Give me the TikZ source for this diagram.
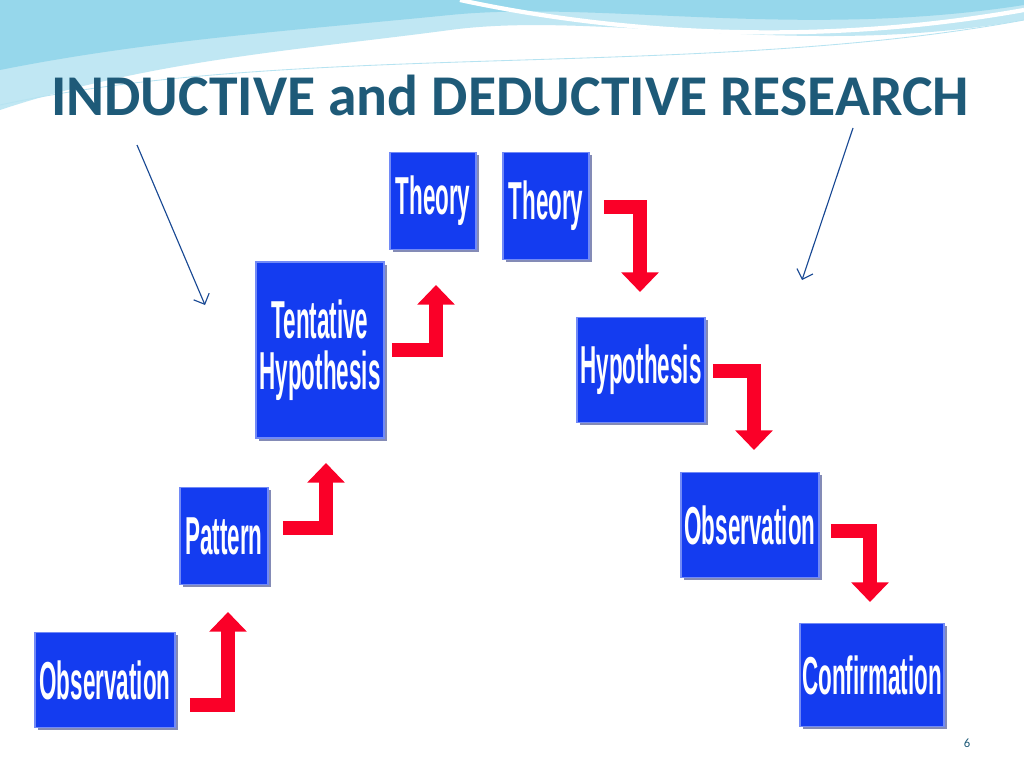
\documentclass[tikz,border=0pt]{standalone}
\usepackage{fontspec}
\setmainfont{Carlito}
\newfontfamily\boxfont{Liberation Sans}
\usepackage{graphicx}
\usetikzlibrary{positioning,arrows.meta,calc,shadows}
\definecolor{boxblue}{RGB}{20,60,240}
\definecolor{boxdark}{RGB}{10,25,110}
\definecolor{arrred}{RGB}{250,0,40}
\definecolor{titleteal}{RGB}{30,90,120}
\definecolor{skyblue}{RGB}{150,215,235}
\newcommand{\blbl}[1]{\scalebox{0.42}[1]{#1}}
\tikzset{
  stepbox/.style={fill=boxblue, draw=boxblue!60!white, line width=1pt, inner sep=0pt,
    text=white, font=\boxfont\bfseries\fontsize{38}{40}\selectfont, align=center,
    drop shadow={fill=boxdark, shadow xshift=2pt, shadow yshift=-2pt}},
  redarrow/.style={draw=arrred, line width=10pt, -{Triangle[width=26pt,length=14pt]}},
  pointer/.style={draw=titleteal!80!blue, line width=0.8pt, -{Straight Barb[length=6pt]}},
}
\begin{document}
\begin{tikzpicture}[x=0.025cm,y=-0.025cm]
\useasboundingbox[fill=white] (0,0) rectangle (1024,768);
% top waves
\fill[skyblue!60] (0,0) -- (1024,0) -- (1024,20) .. controls (800,60) and (600,10) .. (450,30) .. controls (300,50) and (150,60) .. (0,110) -- cycle;
\fill[skyblue] (0,0) -- (1024,0) -- (1024,5) .. controls (800,40) and (600,0) .. (450,15) .. controls (300,30) and (150,40) .. (0,70) -- cycle;
\draw[white, line width=3pt] (460,0) .. controls (600,30) and (800,50) .. (1024,10);
\draw[skyblue!70, line width=0.6pt] (0,105) .. controls (300,40) and (700,80) .. (1024,20);
\node[font=\bfseries\fontsize{41}{44}\selectfont, text=titleteal] (title) at (510,95) {INDUCTIVE and DEDUCTIVE RESEARCH};
% inductive side
\node[stepbox, text width=3.5cm, minimum height=2.375cm] (obsA) at (105,680) {\blbl{Observation}};
\node[stepbox, text width=2.2cm, minimum height=2.425cm] (pattern) at (224,536) {\blbl{Pattern}};
\node[stepbox, text width=3.2cm, minimum height=4.4cm] (tentative) at (320,350) {\blbl{Tentative}\\[-4pt]\blbl{Hypothesis}};
\node[stepbox, text width=2.15cm, minimum height=2.425cm] (theoryA) at (433,201) {\blbl{Theory}};
% deductive side
\node[stepbox, text width=2.15cm, minimum height=2.675cm] (theoryB) at (546,206) {\blbl{Theory}};
\node[stepbox, text width=3.2cm, minimum height=2.625cm] (hypothesis) at (641,370) {\blbl{Hypothesis}};
\node[stepbox, text width=3.45cm, minimum height=2.625cm] (obsB) at (750,525) {\blbl{Observation}};
\node[stepbox, text width=3.6cm, minimum height=2.575cm] (confirm) at (872,675) {\blbl{Confirmation}};
% red bent arrows
\coordinate (upA) at (228,612);
\coordinate (upB) at (326,463);
\coordinate (upC) at (436,285);
\draw[redarrow] ([xshift=10,yshift=-18]obsA.east) -| (upA);
\draw[redarrow] ([xshift=10,yshift=6]pattern.east) -| (upB);
\draw[redarrow] ([xshift=5,yshift=0]tentative.east) -| (upC);
\coordinate (dnA) at (640,292);
\coordinate (dnB) at (754,450);
\coordinate (dnC) at (870,602);
\draw[redarrow] ([xshift=10,yshift=-1]theoryB.east) -| (dnA);
\draw[redarrow] ([xshift=5,yshift=-1]hypothesis.east) -| (dnB);
\draw[redarrow] ([xshift=8,yshift=-4]obsB.east) -| (dnC);
% pointers
\coordinate (ptA) at (137,145);
\coordinate (ptB) at (853,128);
\coordinate (tipA) at (205,305);
\coordinate (tipB) at (802,280);
\draw[pointer] (ptA) -- (tipA);
\draw[pointer] (ptB) -- (tipB);
\node[text=titleteal, font=\small] (pagenum) at (967,743) {6};
\end{tikzpicture}
\end{document}
